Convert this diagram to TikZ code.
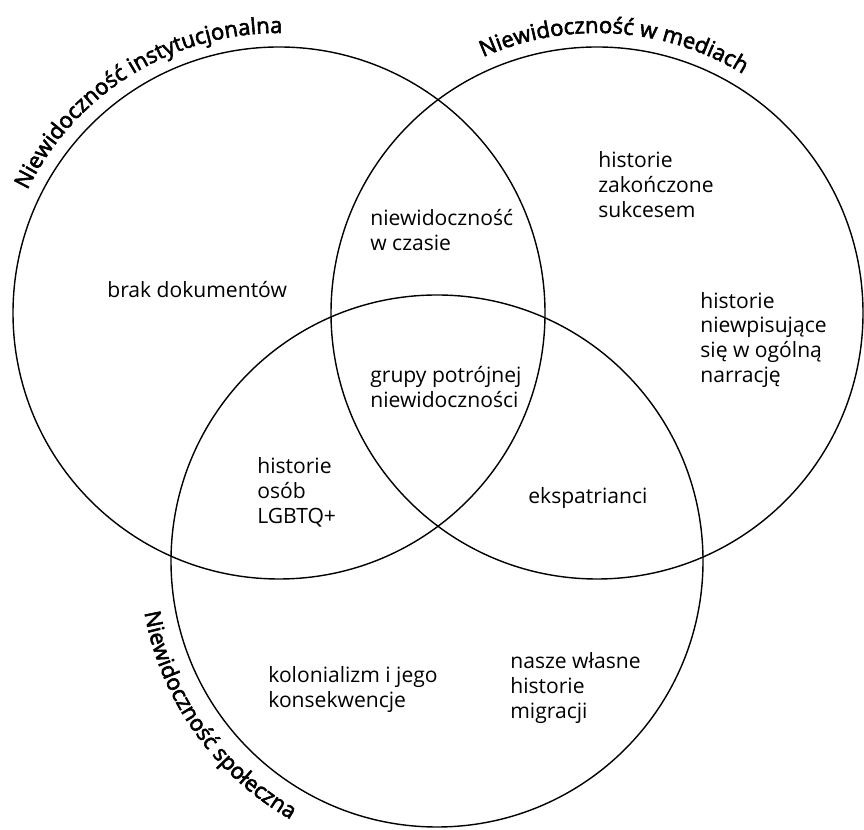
\documentclass[tikz,border=0pt]{standalone}
\usepackage{fontspec}
\setmainfont{Open Sans}
\newfontfamily\semifam{Open Sans}[FakeBold=2.6]
\usetikzlibrary{decorations.text}
\newcommand{\fieldfont}{\fontsize{12}{14.2}\selectfont}
\newcommand{\titlefont}{\fontsize{12.6}{14}\selectfont\semifam}
\tikzset{
  set/.style={draw, line width=0.8pt},
  field/.style={anchor=west, align=left, inner sep=0pt, font=\fieldfont},
  settitle/.style={decorate, decoration={text along path, text={|\titlefont|#1}}},
}

\begin{document}
\begin{tikzpicture}[x=0.02cm, y=0.02cm]
  \useasboundingbox (0,0) rectangle (864,830);
  \coordinate (inst) at (279,517);
  \coordinate (media) at (597,517);
  \coordinate (soc) at (437,269);

  % the three sets
  \draw[set] (inst) circle[radius=266];
  \draw[set] (media) circle[radius=266];
  \draw[set] (soc) circle[radius=266];

  % set names
  \path[settitle={Niewidoczność instytucjonalna}]
    (inst) ++(154:280) arc[start angle=154, end angle=60, radius=280];
  \path[settitle={Niewidoczność w mediach}]
    (media) ++(114:280) arc[start angle=114, end angle=30, radius=280];
  \path[settitle={Niewidoczność społeczna}]
    (soc) ++(190:297) arc[start angle=190, end angle=270, radius=297];

  % fields
  \node[field] (brak) at (107,540) {brak dokumentów};
  \node[field] (czas) at (370,600) {niewidoczność\\w czasie};
  \node[field] (sukces) at (598,645) {historie\\zakończone\\sukcesem};
  \node[field] (narracja) at (700,490) {historie\\niewpisujące\\się w ogólną\\narrację};
  \node[field] (potrojna) at (370,443) {grupy potrójnej\\niewidoczności};
  \node[field] (lgbt) at (257,338) {historie\\osób\\LGBTQ+};
  \node[field] (ekspat) at (528,332) {ekspatrianci};
  \node[field] (kolonializm) at (268,140) {kolonializm i jego\\konsekwencje};
  \node[field] (migracja) at (510,142) {nasze własne\\historie\\migracji};
\end{tikzpicture}
\end{document}
